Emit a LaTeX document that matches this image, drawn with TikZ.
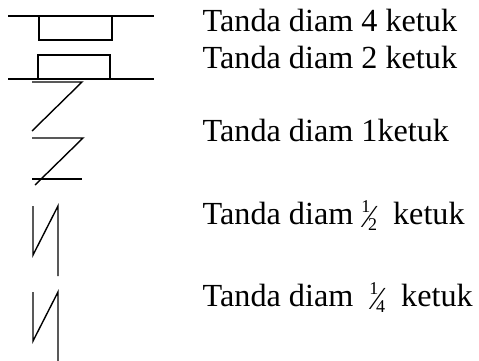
\documentclass[tikz,border=0pt]{standalone}
\usepackage{fontspec}
\setmainfont{Liberation Serif}

% slashed fraction as in the reference
\newcommand{\pecahan}[2]{%
  \raisebox{0.36em}{\fontsize{18}{18}\selectfont #1}\kern-0.12em
  \raisebox{-0.12em}{⁄}\kern-0.12em
  \raisebox{-0.2em}{\fontsize{18}{18}\selectfont #2}}

\begin{document}
\begin{tikzpicture}[x=1pt, y=-1pt, line width=1.4pt,
  label/.style={anchor=base west, inner sep=0pt, font=\fontsize{32.2}{38}\selectfont}]
  \useasboundingbox (0,0) rectangle (479,361);

  % Draw the staff lines
  \foreach \y in {16,79} {
    \draw (8,\y) -- (154,\y);
  }

  % Rest blocks (4 and 2)
  \draw (39,16) rectangle (112,40);
  \draw (38,55) rectangle (110,79);

  % Rest 1 ketuk
  \draw (32,82) -- (82,82) -- (32,131);
  \draw (32,138) -- (83,138) -- (35,185);
  \draw (32,179) -- (82,179);

  % Rests 1/2 and 1/4
  \foreach \t in {206,292} {
    \draw (33,\t) -- (33,\t+49) -- (58,\t) -- (58,\t+70);
  }

  % Labels
  \node[label] (empat) at (202,32) {Tanda diam 4 ketuk};
  \node[label] (dua) at (202,68) {Tanda diam 2 ketuk};
  \node[label] (satu) at (202,141) {Tanda diam 1ketuk};
  \node[label] (setengah) at (202,224) {Tanda diam \pecahan{1}{2}~ ketuk};
  \node[label] (seperempat) at (202,306) {Tanda diam~ \pecahan{1}{4}~ ketuk};

\end{tikzpicture}
\end{document}
